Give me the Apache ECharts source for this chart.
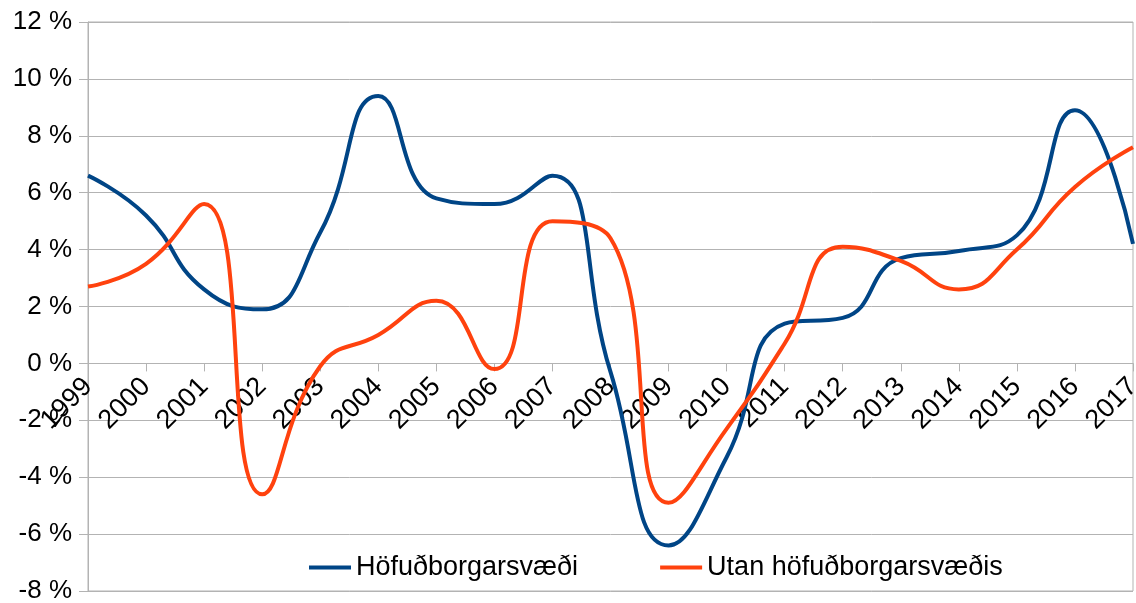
<!DOCTYPE html>
<html>
<head>
<meta charset="utf-8">
<script src="https://cdn.jsdelivr.net/npm/echarts@6/dist/echarts.min.js"></script>
<style>
  html, body { margin: 0; padding: 0; background: #fff; }
  #chart { width: 1136px; height: 603px; }
</style>
</head>
<body>
<div id="chart"></div>
<script>
var years = ['1999', '2000', '2001', '2002', '2003', '2004', '2005', '2006', '2007', '2008',
             '2009', '2010', '2011', '2012', '2013', '2014', '2015', '2016', '2017'];
var hofudborg = [6.6, 5.2, 2.6, 1.9, 4.6, 9.4, 5.8, 5.6, 6.6, -0.3,
                 -6.4, -3.3, 1.4, 1.6, 3.7, 3.95, 4.5, 8.9, 4.2];
var utan = [2.7, 3.5, 5.6, -4.6, -0.1, 1.0, 2.2, -0.2, 5.0, 4.4,
            -4.9, -2.3, 0.7, 4.1, 3.6, 2.6, 4.0, 6.2, 7.6];
var names = ['Höfuðborgarsvæði', 'Utan höfuðborgarsvæðis'];

var gridColor = '#b3b3b3';
var font = 'Liberation Sans, Arial, sans-serif';

// y range -8..12, grid 22..591 px -> zero line sits 227.6 px above the bottom
var zeroOffset = -(569 * 8 / 20);

var chart = echarts.init(document.getElementById('chart'));
chart.setOption({
    animation: false,
    color: ['#004586', '#ff420e'],
    textStyle: { fontFamily: font },
    grid: {
        left: 88, right: 3, top: 22, bottom: 12,
        outerBoundsMode: 'none',
        containLabel: false,
        show: true, borderColor: gridColor, borderWidth: 1
    },
    legend: {
        left: 304,
        top: 549,
        icon: 'rect',
        itemWidth: 42,
        itemHeight: 4,
        itemGap: 82,
        textStyle: { fontSize: 27, color: '#000', fontFamily: font },
        data: names
    },
    xAxis: {
        type: 'category',
        data: years,
        boundaryGap: false,
        position: 'bottom',
        offset: zeroOffset,
        axisLine: { onZero: false, lineStyle: { color: gridColor } },
        axisTick: { show: true, length: 8, interval: 0, lineStyle: { color: gridColor } },
        axisLabel: {
            interval: 0, rotate: 45, margin: 19,
            fontSize: 27, color: '#000', fontFamily: font
        },
        splitLine: { show: false }
    },
    yAxis: {
        type: 'value',
        min: -8, max: 12, interval: 2,
        axisLine: { show: true, lineStyle: { color: gridColor } },
        axisTick: { show: true, length: 9, lineStyle: { color: gridColor } },
        axisLabel: {
            formatter: '{value} %', margin: 16,
            fontSize: 26, color: '#000', fontFamily: font
        },
        splitLine: { lineStyle: { color: gridColor, width: 1 } }
    },
    series: [
        {
            name: names[0],
            type: 'line',
            smooth: 0.5,
            showSymbol: false,
            lineStyle: { width: 4 },
            data: hofudborg
        },
        {
            name: names[1],
            type: 'line',
            smooth: 0.5,
            showSymbol: false,
            lineStyle: { width: 4 },
            data: utan
        }
    ]
});
</script>
</body>
</html>
